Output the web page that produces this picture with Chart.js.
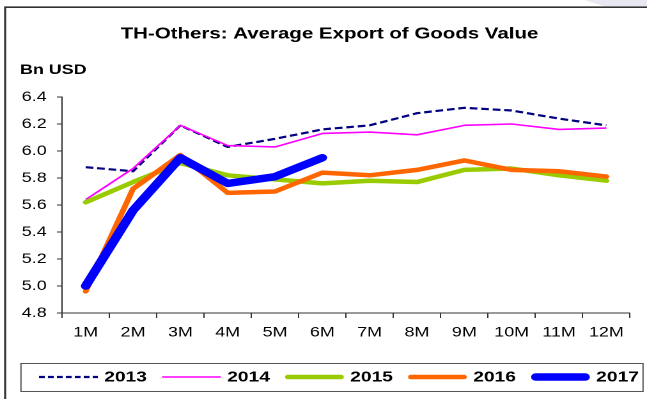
<!DOCTYPE html>
<html>
<head>
<meta charset="utf-8">
<script src="https://cdn.jsdelivr.net/npm/chart.js@4/dist/chart.umd.min.js"></script>
<style>
  html, body { margin: 0; padding: 0; background: #fff; overflow: hidden; }
  /* the chart is laid out narrow and widened horizontally, giving the wide lettering */
  #wrap { position: absolute; left: 0; top: 0; width: 506px; height: 399px;
          transform: scaleX(1.27866); transform-origin: 0 0; }
</style>
</head>
<body>
<div id="wrap"><canvas id="c"></canvas></div>
<script>
// Average monthly export of goods value, Bn USD
const months = ['1M','2M','3M','4M','5M','6M','7M','8M','9M','10M','11M','12M'];
const years = ['2013','2014','2015','2016','2017'];
const v2013 = [5.88, 5.85, 6.19, 6.03, 6.09, 6.16, 6.19, 6.28, 6.32, 6.30, 6.24, 6.19];
const v2014 = [5.64, 5.87, 6.19, 6.04, 6.03, 6.13, 6.14, 6.12, 6.19, 6.20, 6.16, 6.17];
const v2015 = [5.62, 5.77, 5.91, 5.82, 5.79, 5.76, 5.78, 5.77, 5.86, 5.87, 5.82, 5.78];
const v2016 = [4.96, 5.72, 5.97, 5.69, 5.70, 5.84, 5.82, 5.86, 5.93, 5.86, 5.85, 5.81];
const v2017 = [5.00, 5.56, 5.95, 5.76, 5.81, 5.95];
const yTicks = [4.8, 5.0, 5.2, 5.4, 5.6, 5.8, 6.0, 6.2, 6.4];

const FONT = "'Liberation Sans', Arial, sans-serif";
Chart.defaults.font.family = FONT;

const styles = [
  { color: '#000080', width: 2.2, dash: [6, 3], legendDash: [4.5, 2.5], cap: 'butt' },
  { color: '#FF00FF', width: 1.6, dash: [], legendDash: [], cap: 'butt' },
  { color: '#99CC00', width: 4.5, dash: [], legendDash: [], cap: 'round' },
  { color: '#FF6600', width: 4.5, dash: [], legendDash: [], cap: 'round' },
  { color: '#0000FF', width: 7.5, dash: [], legendDash: [], cap: 'round' }
];
const series = [v2013, v2014, v2015, v2016, v2017];

const datasets = series.map((vals, i) => ({
  label: years[i],
  data: vals,
  borderColor: styles[i].color,
  backgroundColor: styles[i].color,
  borderWidth: styles[i].width,
  borderDash: styles[i].dash,
  borderCapStyle: styles[i].cap,
  borderJoinStyle: 'round',
  pointRadius: 0,
  pointHoverRadius: 0,
  tension: 0,
  fill: false,
  order: series.length - i
}));

// frame, title, unit label and the boxed legend
const decorations = {
  id: 'decorations',
  beforeDraw(chart) {
    const ctx = chart.ctx;
    ctx.save();
    ctx.fillStyle = '#fff';
    ctx.fillRect(0, 0, chart.width, chart.height);
    ctx.fillStyle = '#e8e8f3';
    ctx.beginPath();
    ctx.moveTo(457, 0); ctx.lineTo(506, 0); ctx.lineTo(506, 6); ctx.lineTo(472, 6);
    ctx.closePath();
    ctx.fill();
    ctx.strokeStyle = '#333';
    ctx.lineWidth = 1.6;
    ctx.beginPath();
    ctx.moveTo(4, 400); ctx.lineTo(4, 7.2); ctx.lineTo(506, 7.2);
    ctx.stroke();
    ctx.restore();
  },
  afterDraw(chart) {
    const ctx = chart.ctx;
    ctx.save();
    ctx.fillStyle = '#000';
    ctx.textBaseline = 'middle';
    ctx.font = 'bold 16px ' + FONT;
    ctx.textAlign = 'center';
    ctx.fillText('TH-Others: Average Export of Goods Value', 257.7, 34);
    ctx.font = 'bold 14px ' + FONT;
    ctx.textAlign = 'left';
    ctx.fillText('Bn USD', 15.6, 70);

    // legend box
    ctx.strokeStyle = '#555';
    ctx.lineWidth = 1;
    ctx.strokeRect(16.4, 363.5, 486.5, 28);
    const y = 377;
    ctx.font = 'bold 15px ' + FONT;
    chart.data.datasets.forEach((ds, i) => {
      const x0 = 30.5 + i * 96.2;
      ctx.strokeStyle = ds.borderColor;
      ctx.lineWidth = ds.borderWidth;
      ctx.lineCap = styles[i].cap;
      ctx.setLineDash(styles[i].legendDash);
      ctx.beginPath();
      ctx.moveTo(x0 + (styles[i].cap === 'round' ? ds.borderWidth / 2 : 0), y);
      ctx.lineTo(x0 + 46 - (styles[i].cap === 'round' ? ds.borderWidth / 2 : 0), y);
      ctx.stroke();
      ctx.setLineDash([]);
      ctx.fillStyle = '#000';
      ctx.fillText(ds.label, x0 + 51, y + 0.5);
    });
    ctx.restore();
  }
};

new Chart(document.getElementById('c'), {
  type: 'line',
  data: { labels: months, datasets },
  options: {
    responsive: true,
    maintainAspectRatio: false,
    animation: false,
    devicePixelRatio: 2,
    layout: { padding: { left: 0, top: 97, right: 13.3, bottom: 56 } },
    plugins: { legend: { display: false }, title: { display: false }, tooltip: { enabled: false } },
    events: [],
    scales: {
      x: {
        type: 'category',
        offset: true,
        afterFit(scale) { scale.height = 30; },
        grid: { offset: true, drawOnChartArea: false, drawTicks: true, tickLength: 5, color: '#333', lineWidth: 1 },
        border: { display: true, color: '#333', width: 1 },
        ticks: { color: '#000', font: { size: 14 }, padding: 6, maxRotation: 0, autoSkip: false }
      },
      y: {
        min: yTicks[0],
        max: yTicks[yTicks.length - 1],
        afterFit(scale) { scale.width = 48.5; },
        afterBuildTicks(scale) { scale.ticks = yTicks.map(v => ({ value: v })); },
        grid: { drawOnChartArea: false, drawTicks: true, tickLength: 4, color: '#333', lineWidth: 1 },
        border: { display: true, color: '#333', width: 1 },
        ticks: { color: '#000', font: { size: 14 }, padding: 8, callback: v => Number(v).toFixed(1) }
      }
    }
  },
  plugins: [decorations]
});
</script>
</body>
</html>
